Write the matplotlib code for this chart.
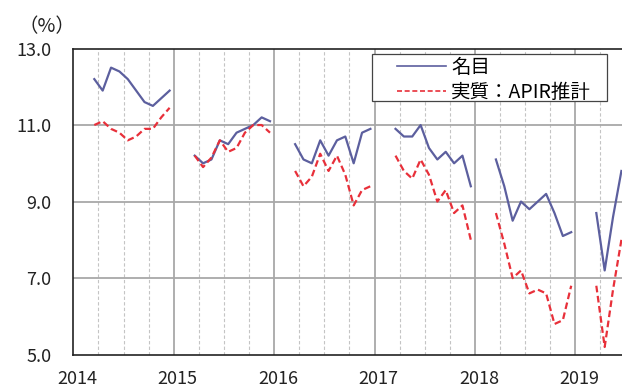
import numpy as np
import matplotlib
matplotlib.use('Agg')
import matplotlib.pyplot as plt
from matplotlib.patches import Rectangle
from matplotlib.transforms import ScaledTranslation

plt.rcParams['font.family'] = ['Noto Sans CJK JP', 'DejaVu Sans']

years = [2014, 2015, 2016, 2017, 2018, 2019]
first_month = 3  # each year is plotted from March

# monthly rates (%), March onwards for each year
nominal = {
    2014: [12.2, 11.9, 12.5, 12.4, 12.2, 11.9, 11.6, 11.5, 11.7, 11.9],
    2015: [10.2, 10.0, 10.1, 10.6, 10.5, 10.8, 10.9, 11.0, 11.2, 11.1],
    2016: [10.5, 10.1, 10.0, 10.6, 10.2, 10.6, 10.7, 10.0, 10.8, 10.9],
    2017: [10.9, 10.7, 10.7, 11.0, 10.4, 10.1, 10.3, 10.0, 10.2, 9.4],
    2018: [10.1, 9.4, 8.5, 9.0, 8.8, 9.0, 9.2, 8.7, 8.1, 8.2],
    2019: [8.7, 7.2, 8.6, 9.8],
}
real_apir = {
    2014: [11.0, 11.1, 10.9, 10.8, 10.6, 10.7, 10.9, 10.9, 11.2, 11.45],
    2015: [10.2, 9.9, 10.15, 10.6, 10.3, 10.4, 10.8, 11.0, 11.0, 10.8],
    2016: [9.8, 9.4, 9.65, 10.25, 9.8, 10.2, 9.7, 8.9, 9.3, 9.4],
    2017: [10.2, 9.8, 9.6, 10.1, 9.7, 9.0, 9.3, 8.7, 8.9, 8.0],
    2018: [8.7, 7.9, 7.0, 7.2, 6.6, 6.7, 6.6, 5.8, 5.9, 6.8],
    2019: [6.8, 5.2, 6.7, 8.0],
}
labels = ['名目', '実質：APIR推計']
yticks = [5.0, 7.0, 9.0, 11.0, 13.0]


def month_x(year, n):
    # centre of each month on a decimal-year axis
    m = np.arange(n) + first_month - 1
    return year + (m + 0.5) / 12.0


fig = plt.figure(figsize=(6.22, 3.88), dpi=100)
ax = fig.add_axes([0.118, 0.086, 0.882, 0.789])

blue = '#5c5f9e'
red = '#e8303a'
for i, y in enumerate(years):
    ax.plot(month_x(y, len(nominal[y])), nominal[y], color=blue, lw=1.6,
            label=labels[0] if i == 0 else None, zorder=3)
    ax.plot(month_x(y, len(real_apir[y])), real_apir[y], color=red, lw=1.6,
            ls=(0, (3, 1.6)), label=labels[1] if i == 0 else None, zorder=3)

x_end = 2019 + 5.57 / 12
ax.set_xlim(2014, x_end)
ax.set_ylim(5, 13)

# quarterly dashed lines, yearly solid lines
for y in years:
    for q in (3, 6, 9):
        xq = y + q / 12
        if xq < x_end:
            ax.axvline(xq, color='#c4c4c4', lw=0.8, ls=(0, (3, 2)), zorder=1)
    if y > 2014:
        ax.axvline(y, color='#a8a8a8', lw=1.3, zorder=1)
for v in yticks[1:-1]:
    ax.axhline(v, color='#a8a8a8', lw=1.3, zorder=1)

ax.set_xticks(years)
ax.set_xticklabels([str(y) for y in years])
ax.set_yticks(yticks)
ax.set_yticklabels(['%.1f' % v for v in yticks])
ax.tick_params(length=0, labelsize=13, colors='#222222')
ax.tick_params(axis='x', pad=11)
ax.tick_params(axis='y', pad=16)
shift = ScaledTranslation(4 / 100, 0, fig.dpi_scale_trans)
for lab in ax.get_xticklabels():
    lab.set_transform(lab.get_transform() + shift)

for s in ('left', 'bottom', 'top'):
    ax.spines[s].set_color('#222222')
    ax.spines[s].set_linewidth(1.2)
ax.spines['right'].set_visible(False)

# legend entries without frame, box drawn separately
leg = fig.legend(loc='upper left', bbox_to_anchor=(397 / 622, 1 - 57 / 388),
                 fontsize=14, handlelength=2.5, handletextpad=0.28,
                 borderpad=0, borderaxespad=0, labelspacing=0.18,
                 frameon=False)
for h in leg.get_lines():
    h.set_linewidth(1.2)
fig.patches.append(Rectangle((371.7 / 622, 1 - 100.7 / 388), 235 / 622,
                             46.7 / 388, transform=fig.transFigure,
                             facecolor='white', edgecolor='#444444',
                             lw=0.9, zorder=2))

fig.text(0.03, 0.905, '（%）', fontsize=14, color='#222222', va='bottom')

fig.savefig('out.png', dpi=100)
